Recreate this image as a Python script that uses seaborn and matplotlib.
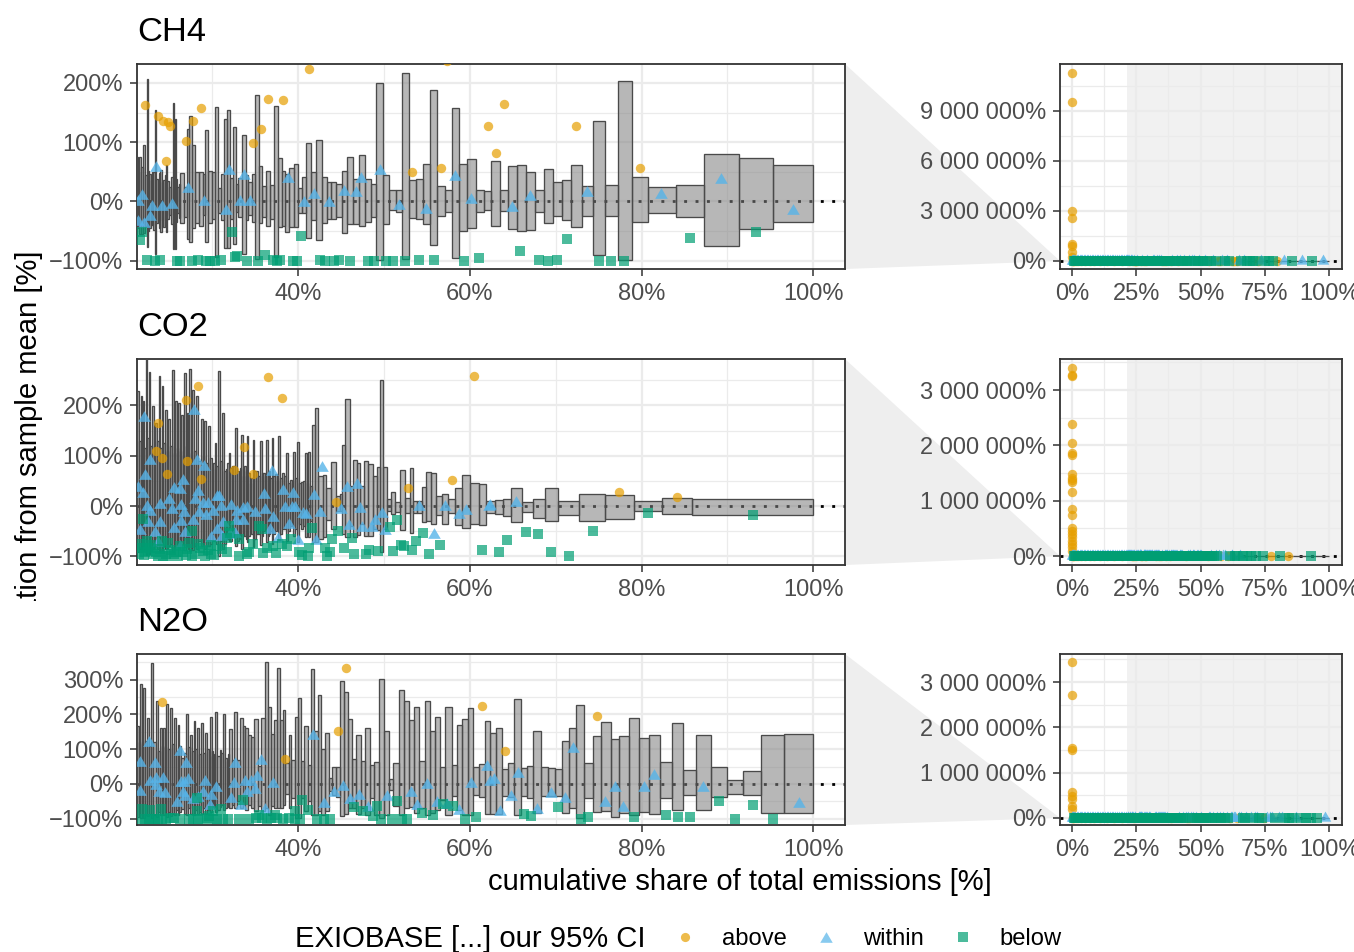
import numpy as np
import pandas as pd
import seaborn as sns
import matplotlib.pyplot as plt
from matplotlib.lines import Line2D
from matplotlib.patches import Polygon
from matplotlib.path import Path
from matplotlib.ticker import MultipleLocator
from matplotlib.transforms import Bbox

# bars run from right to left: edges are the cumulative shares between them
ch4_edges = [100, 95.3, 91.3, 87.3, 84.0, 80.7, 78.9, 77.3, 75.8, 74.35, 73.1, 71.8, 70.7, 69.7, 68.6, 67.55, 66.5, 65.5, 64.4, 63.5, 62.5,
             61.6, 60.67, 59.70, 58.80, 57.91, 57.06, 56.16, 55.35, 54.53, 53.71, 52.94, 52.08, 51.38, 50.64, 49.87, 49.13, 48.47, 47.81, 47.07, 46.41,
             45.75, 45.09, 44.47, 43.89, 43.34, 42.80, 42.14, 41.55, 40.97, 40.51, 40.04, 39.53, 38.99, 38.52, 38.14, 37.63, 37.16, 36.74, 36.27, 35.84,
             35.46, 35.03, 34.60, 34.17, 33.90, 33.47, 33.05, 32.77, 32.39, 32.07, 31.69, 31.38, 30.99, 30.72, 30.37, 29.98, 29.51, 29.12, 28.89, 28.50,
             28.00, 27.65, 27.34, 27.06, 26.75, 26.25, 25.94, 25.66, 25.39, 24.93, 24.62, 24.30, 23.92, 23.68, 23.29, 22.98, 22.67, 22.36, 21.90, 21.51, 21.24]
ch4_hi = [61, 73, 80, 28, 24, 42, 203, 28, 135, 26, 61, 37, 32, 55, 20, 50, 62, 60, 19, 69, 17,
          19, 72, 64, 157, 19, 26, 188, 63, 38, 37, 217, 19, 20, 44, 200, 29, 38, 78, 38, 75,
          52, 30, 33, 33, 42, 103, 49, 99, 42, 23, 64, 56, 47, 51, 74, 161, 28, 51, 26, 60,
          180, 47, 33, 44, 113, 39, 30, 125, 40, 154, 140, 47, 22, 160, 49, 52, 121, 47, 50, 49,
          95, 145, 123, 25, 48, 25, 140, 167, 25, 62, 36, 53, 37, 154, 50, 47, 206, 95, 75, 75]
ch4_lo = [-35, -46, -76, -26, -20, -34, -99, -24, -90, -24, -43, -32, -25, -37, -17, -49, -50, -46, -16, -41, -15,
          -17, -44, -50, -96, -17, -24, -74, -38, -29, -28, -97, -17, -15, -38, -98, -26, -34, -42, -38, -38,
          -54, -26, -29, -29, -37, -65, -31, -62, -19, -19, -43, -43, -51, -42, -43, -93, -29, -42, -26, -36,
          -97, -34, -23, -32, -88, -26, -18, -72, -30, -79, -78, -32, -20, -93, -29, -37, -69, -23, -41, -37,
          -45, -68, -64, -26, -37, -20, -81, -81, -23, -51, -43, -51, -35, -88, -40, -45, -77, -54, -55, -37]
# shorter bars squeezed in next to the last (leftmost) bars, where the curve is densest
ch4_fill_hi = [30, 38, 28, 42, 35, 45, 32, 48, 38, 50, 36, 52, 45, 58, 50]
ch4_fill_lo = [-28, -35, -25, -38, -30, -42, -32, -45, -36, -48, -40, -50, -42, -55, -45]

co2_edges = [100, 85.88, 82.39, 79.12, 75.78, 72.75, 70.27, 68.71, 67.31, 66.03, 64.75, 63.82, 62.89, 61.91,
             61.02, 60.05, 59.12, 58.30, 57.52, 56.82, 56.08, 55.50, 54.88, 54.38, 53.90, 53.44, 52.98, 52.45, 51.85, 51.33, 50.82, 50.36, 49.9, 49.6,
             49.15, 48.7, 48.15, 47.65, 47.25, 46.85, 46.45, 46.0, 45.5, 45.15, 44.85, 44.4, 43.85, 43.3, 42.85, 42.35, 41.95, 41.6,
             41.2, 40.8, 40.35, 39.9, 39.45, 39.05, 38.6, 38.1, 37.7, 37.3, 36.95, 36.6, 36.3, 35.95, 35.55, 35.1, 34.7, 34.35, 34.05, 33.75,
             33.4, 33.1, 32.7, 32.25, 31.9, 31.55, 31.15, 30.65, 30.3, 29.95, 29.55, 29.1, 28.65, 28.15, 27.7, 27.35, 27.05, 26.75, 26.4, 26.05,
             25.7, 25.3, 24.9, 24.5, 24.15, 23.75, 23.35, 23.0, 22.6, 22.25, 21.95, 21.65, 21.24]
co2_hi = [15, 16, 10, 21, 24, 11, 36, 15, 9, 35, 15, 13, 10,
          44, 46, 61, 36, 15, 23, 20, 65, 67, 38, 10, 10, 76, 17, 71, 8, 28, 15, 78, 250,
          78, 59, 83, 89, 40, 86, 92, 40, 212, 121, 24, 20, 88, 35, 61, 59, 195, 160,
          107, 106, 47, 127, 107, 52, 106, 65, 140, 63, 135, 69, 132, 66, 129, 69, 132, 46, 139, 79,
          142, 66, 155, 79, 106, 73, 185, 269, 125, 73, 158, 168, 172, 218, 231, 272, 185, 264, 180, 205,
          208, 271, 172, 191, 239, 259, 165, 198, 267, 300, 208, 218, 228]
co2_lo = [-18, -15, -10, -26, -30, -18, -30, -23, -12, -31, -20, -15, -13,
          -38, -36, -43, -38, -13, -36, -17, -36, -30, -31, -13, -13, -53, -13, -48, -12, -16, -10, -46, -92,
          -48, -45, -60, -60, -35, -58, -62, -40, -62, -55, -10, -10, -45, -28, -62, -66, -72, -72,
          -62, -62, -45, -72, -60, -40, -70, -45, -68, -50, -75, -55, -72, -50, -78, -55, -82, -45, -72, -60,
          -85, -55, -80, -60, -70, -55, -85, -99, -70, -55, -80, -85, -80, -85, -88, -90, -80, -88, -78, -85,
          -85, -92, -80, -85, -90, -92, -80, -85, -95, -97, -90, -92, -92]
co2_fill_hi = [40, 45, 50, 45, 55, 50, 45, 60, 55, 50, 60, 55, 70, 60, 65, 60, 70, 55, 65, 70, 60, 75, 70, 80, 75, 85, 70, 90, 80, 85,
               95, 85, 100, 90, 110, 95, 105, 120, 100, 110, 115, 105, 120, 110, 125, 115, 130, 110, 120, 135, 115, 125, 130]
co2_fill_lo = [-30, -35, -40, -35, -45, -40, -50, -45, -55, -45, -55, -50, -60, -50, -60, -55, -65, -55, -60, -65, -60, -65, -70, -60, -70, -65, -75, -70, -75, -70,
               -75, -80, -75, -70, -80, -75, -85, -80, -75, -85, -80, -85, -75, -85, -80, -90, -85, -80, -90, -85, -85, -90, -85]

n2o_edges = [100, 96.57, 93.96, 91.83, 89.96, 88.1, 86.3, 84.84, 83.5, 82.2, 80.9, 79.7, 78.5, 77.4, 76.4, 75.3, 74.3, 73.3, 72.4, 71.55, 70.7,
             69.9, 69.1, 68.3, 67.4, 66.7, 66.0, 65.2, 64.5, 63.8, 63.1, 62.38, 61.72, 61.06, 60.4, 59.74, 59.15, 58.5, 57.87, 57.17, 56.55,
             55.89, 55.35, 54.76, 54.1, 53.48, 52.9, 52.3, 51.7, 51.1, 50.57, 50.0, 49.48, 48.9, 48.4, 47.85, 47.34, 46.8, 46.3, 45.83, 45.4,
             44.9, 44.43, 44.0, 43.6, 43.15, 42.72, 42.3, 41.87, 41.55, 41.17, 40.7, 40.3, 39.96, 39.6, 39.2, 38.9, 38.5, 38.2, 37.86, 37.55,
             37.16, 36.85, 36.47, 36.1, 35.73, 35.34, 34.87, 34.48, 34.17, 33.86, 33.63, 33.24, 32.85, 32.54,
             32.0, 31.75, 31.3, 30.85, 30.35, 30.1, 29.8, 29.6, 29.15, 28.65, 28.25, 27.85, 27.4, 26.95, 26.4, 25.97, 25.55, 25.1, 24.65, 24.3, 23.95, 23.4, 22.85, 22.35, 21.95, 21.6, 21.24]
n2o_hi = [145, 142, 38, 12, 49, 142, 41, 176, 62, 142, 132, 190, 137, 129, 177, 139, 60, 227, 161, 125,
          44, 46, 49, 152, 53, 46, 244, 59, 44, 160, 147, 181, 58, 49, 219, 186, 169, 54, 221, 48,
          192, 152, 240, 67, 222, 183, 238, 269, 60, 15, 152, 303, 63, 56, 161, 65, 142, 73, 186, 264,
          296, 49, 49, 17, 147, 101, 256, 152, 330, 56, 166, 65, 248, 193, 70, 140, 60, 213, 183, 333,
          184, 144, 221, 352, 190, 53, 186, 136, 142, 161, 166, 190, 70, 208,
          157, 65, 200, 97, 208, 60, 194, 94, 147, 176, 160, 181, 140, 200, 75, 169, 189, 219, 229, 160, 162, 240, 349, 190, 277, 288, 166]
n2o_lo = [-84, -84, -33, -28, -38, -74, -33, -74, -40, -85, -81, -88, -84, -94, -77, -80, -40, -98, -68, -84,
          -34, -34, -34, -84, -40, -34, -90, -36, -34, -86, -86, -86, -38, -33, -90, -88, -74, -34, -88, -45,
          -74, -84, -88, -69, -84, -67, -69, -88, -64, -16, -90, -98, -88, -40, -88, -69, -86, -69, -69, -87,
          -93, -36, -31, -21, -79, -88, -79, -88, -88, -50, -79, -40, -98, -98, -40, -69, -30, -60, -69, -69,
          -69, -64, -88, -69, -79, -64, -79, -69, -60, -74, -60, -69, -50, -69,
          -70, -60, -75, -65, -80, -60, -80, -65, -85, -85, -85, -88, -85, -88, -72, -90, -90, -92, -95, -90, -88, -95, -98, -92, -98, -98, -95]
n2o_fill_hi = [70, 85, 75, 90, 80, 85, 95, 80, 100, 90, 85, 100, 95, 105, 90, 110, 95, 115, 100, 105, 110, 95, 120, 110, 125, 115, 120]
n2o_fill_lo = [-60, -65, -70, -60, -75, -70, -65, -80, -75, -70, -80, -75, -85, -70, -85, -80, -75, -85, -80, -90, -85, -80, -90, -85, -90, -88, -90]

ch4_above_x = [22.2, 23.7, 24.3, 24.8, 25.1, 24.6, 26.95, 27.8, 28.7, 34.8, 35.65, 36.5, 38.3, 41.3, 57.4, 53.3, 56.6, 62.1, 64.0, 63.0, 72.4, 79.8]
ch4_above_y = [162, 145, 136, 134, 128, 68, 102, 135, 157, 98, 123, 173, 171, 223, 237, 50, 57, 127, 164, 81, 127, 56]
ch4_within_x = [21.8, 21.4, 22.05, 22.8, 21.4, 23.0, 24.1, 25.3, 23.45, 27.2, 29.0, 31.6, 31.9, 33.2, 33.7, 34.4, 38.8, 40.7, 41.9, 43.6, 45.4, 46.8, 47.3, 49.5, 51.7, 54.9, 58.3, 60.1, 64.9, 67.0, 73.65, 82.3, 89.3, 97.6]
ch4_within_y = [12, 2, -35, -23, -32, -6, -6, -3, 60, 25, 3, -13, 55, 2, 46, 2, 42, 0, 14, 0, 20, 17, 42, 54, -5, -11, 45, 5, -7, 11, 17, 15, 40, -12]
ch4_below_x = [21.8, 21.6, 22.4, 23.3, 23.9, 25.9, 26.3, 27.6, 28.4, 29.3, 29.75, 30.3, 31.0, 32.3, 32.7, 32.9, 34.1, 35.3, 36.1, 37.05, 37.5, 37.9, 39.4, 39.85, 40.3, 42.5, 43.1, 44.2, 44.8, 46.1, 48.1, 48.8, 50.2, 51.0, 52.5, 54.1, 55.8, 59.3, 61.1, 65.9, 68.05, 69.1, 70.2, 71.3, 75.0, 76.5, 78.0, 85.6, 93.3]
ch4_below_y = [-51, -65, -98, -100, -98, -100, -100, -100, -98, -100, -100, -100, -98, -51, -93, -92, -100, -100, -90, -98, -100, -98, -100, -100, -59, -98, -100, -100, -98, -100, -100, -100, -100, -100, -100, -98, -98, -100, -96, -84, -98, -100, -98, -64, -100, -100, -100, -62, -52]

co2_above_x = [23.7, 23.4, 24.2, 24.7, 26.9, 28.4, 27.1, 28.7, 33.7, 32.5, 34.7, 36.5, 38.1, 44.4, 52.8, 57.9, 60.5, 77.4, 84.1]
co2_above_y = [165, 110, 96, 64, 211, 238, 89, 53, 117, 71, 63, 257, 214, 9, 36, 51, 258, 28, 18]
co2_within_x = [22.05, 27.9, 22.8, 22.2, 21.4, 21.9, 28.2, 29.05, 25.5, 26.25, 26.6, 28.4, 28.0, 25.0, 22.4, 23.9, 26.4, 25.3, 22.75, 26.7, 28.9, 29.55, 30.5, 30.8, 31.0, 32.2, 30.1, 29.3, 28.5, 22.55, 23.9, 25.55, 27.8, 26.4, 23.3, 21.6, 26.8, 23.7, 26.3, 29.9, 30.5, 31.2, 32.8, 33.55, 32.9, 33.6, 34.0, 35.0, 36.1, 36.0, 37.0, 38.3, 37.1, 38.5, 39.45, 39.3, 39.65, 40.6, 40.9, 38.9, 36.7, 37.7, 39.95, 42.1, 41.8, 42.8, 42.5, 45.0, 47.2, 45.7, 46.9, 45.9, 47.5, 49.0, 48.6, 49.8, 50.1, 54.1, 55.8, 57.1, 58.7, 59.6, 62.2, 32.05, 31.1, 32.65, 62.4, 65.4]
co2_within_y = [178, 193, 94, 63, 40, 28, 94, 81, 38, 36, 53, 32, 17, 17, 3, 7, 5, -3, -8, -10, 8, 9, 21, 21, 3, 5, -7, -15, -9, -30, -30, -41, -25, -28, -50, -46, -50, -69, -78, -59, -43, -30, -26, -26, -7, -1, 0, -10, -3, 25, 71, 33, -20, 1, 28, 1, 1, -12, -13, -33, -44, -61, -66, -66, 24, 79, -9, -3, -2, 40, 46, -36, -40, -26, -40, -11, -46, 2, -53, 2, -13, -5, 3, -53, -58, -51, 4, 10]
co2_below_x = [21.95, 22.35, 21.8, 22.2, 22.75, 23.15, 23.7, 24.3, 24.9, 24.9, 25.5, 26.05, 26.65, 27.35, 27.6, 27.6, 28.6, 29.15, 29.9, 29.9, 30.5, 31.1, 31.7, 31.9, 32.05, 31.7, 33.15, 33.15, 34.1, 34.3, 34.8, 35.4, 35.75, 35.9, 36.4, 37.1, 37.4, 38.1, 38.7, 39.15, 40.15, 40.4, 41.1, 41.3, 41.6, 43.15, 43.35, 43.7, 43.9, 44.7, 45.3, 46.25, 46.55, 47.9, 48.3, 49.35, 50.65, 51.0, 51.5, 51.95, 52.3, 53.25, 53.7, 54.6, 55.2, 56.5, 61.4, 63.35, 64.3, 66.6, 68.0, 69.5, 71.5, 74.3, 80.7, 93.0,
               21.5, 21.7, 22.0, 22.5, 22.9, 23.4, 23.9, 24.1, 24.6, 25.2, 25.8, 26.3, 26.9, 27.1, 28.0, 28.3, 28.9, 29.5, 30.2]
co2_below_y = [-26, -69, -83, -92, -83, -96, -99, -99, -73, -99, -96, -99, -92, -73, -99, -50, -84, -99, -78, -96, -79, -86, -92, -40, -53, -63, -99, -66, -96, -92, -76, -40, -46, -94, -83, -79, -94, -76, -79, -66, -92, -98, -99, -83, -43, -83, -99, -92, -66, -50, -83, -63, -96, -96, -87, -89, -42, -90, -28, -78, -79, -88, -70, -54, -96, -78, -88, -91, -67, -51, -55, -91, -99, -50, -14, -18,
               -95, -75, -97, -90, -78, -92, -85, -70, -95, -88, -92, -80, -97, -86, -95, -75, -90, -88, -97]

n2o_above_x = [24.2, 38.5, 44.7, 45.6, 61.4, 64.1, 74.8]
n2o_above_y = [236, 73, 153, 333, 225, 96, 197]
n2o_within_x = [21.6, 22.6, 23.3, 21.6, 22.7, 23.45, 24.3, 23.5, 23.85, 24.5, 26.2, 25.9, 26.4, 26.7, 27.2, 27.0, 26.6, 26.8, 27.8, 28.4, 28.9, 29.2, 29.9, 30.4, 29.75, 32.2, 32.7, 32.5, 33.8, 34.5, 35.2, 35.7, 35.0, 34.1, 33.4, 36.2, 37.05, 41.75, 43.0, 44.2, 45.2, 46.1, 47.1, 48.1, 50.3, 53.2, 53.8, 55.0, 56.2, 57.4, 58.8, 60.1, 62.0, 62.4, 62.8, 65.6, 64.8, 63.5, 67.8, 69.45, 71.1, 72.0, 75.8, 76.9, 77.9, 80.3, 81.5, 87.2, 98.3]
n2o_within_y = [67, 125, 63, -16, 12, 19, 20, 0, -21, -23, 99, -48, 10, 8, 17, 63, -21, -31, -40, -34, -21, 12, -29, -5, -58, -36, 62, 6, 12, 12, 25, 73, -12, -21, -58, -69, 6, 145, -53, -19, -2, -40, -29, -62, -31, -19, -58, 2, -50, -55, -71, 5, 56, 12, 17, 35, -31, -74, -69, -23, -37, 105, -50, -7, -62, -6, 28, -5, -52]
n2o_below_x = [21.8, 22.2, 22.6, 23.0, 23.3, 23.7, 24.1, 24.6, 25.1, 25.5, 26.2, 27.3, 27.8, 28.4, 28.9, 29.4, 30.1, 30.6, 31.3, 31.8, 33.1, 34.3, 35.1, 35.8, 36.4, 36.9, 37.5, 38.2, 38.9, 39.7, 40.2, 42.2, 43.0, 43.7,
               21.8, 22.8, 24.0, 28.2, 30.1, 31.0, 28.2, 33.6, 29.6, 35.4, 37.3, 39.7, 41.2, 40.5, 46.5, 47.6, 48.7, 49.2, 49.7, 50.9, 51.5, 52.1, 52.7, 54.4, 55.7, 56.9, 58.0, 59.4, 60.7,
               66.3, 67.1, 70.3, 72.9, 73.8, 79.1, 82.8, 84.2, 85.6, 89.0, 90.9, 93.0, 95.3]
n2o_below_y = [-100, -100, -100, -100, -100, -100, -100, -100, -98, -98, -100, -100, -100, -100, -100, -98, -100, -100, -100, -100, -100, -100, -98, -97, -100, -98, -98, -100, -98, -100, -100, -100, -100, -100,
               -71, -74, -71, -77, -77, -71, -40, -45, -91, -89, -89, -77, -74, -45, -67, -79, -91, -62, -100, -100, -48, -100, -100, -83, -89, -58, -62, -100, -94,
               -86, -91, -67, -100, -96, -94, -88, -94, -96, -49, -100, -60, -100]

# extreme outliers sit right at the start of the curve, only the zoomed out panels show them
ch4_far_x = [0.1, 0.1, 0.1, 0.1, 0.1, 0.1, 0.1, 0.1]
ch4_far_y = [11280000, 9540000, 2980000, 2600000, 1040000, 880000, 540000, 240000]
co2_far_x = [0.1, 0.1, 0.1, 0.1, 0.1, 0.1, 0.1, 0.1, 0.1, 0.1, 0.1, 0.1, 0.1, 0.1, 0.1, 0.1, 0.1, 0.1, 0.1, 0.1, 0.1, 0.1]
co2_far_y = [3400000, 3280000, 3250000, 2390000, 2050000, 1870000, 1820000, 1480000, 1410000, 1370000, 1340000, 1150000, 860000, 750000, 510000, 460000, 400000, 340000, 280000, 220000, 160000, 100000]
n2o_far_x = [0.1, 0.1, 0.1, 0.1, 0.1, 0.1, 0.1, 0.1, 0.1]
n2o_far_y = [3450000, 2720000, 1540000, 1490000, 570000, 490000, 420000, 270000, 200000]

# points below the cut of the left panels
low_above_x = [0.2, 0.5, 0.9, 1.4, 2.2, 3.5, 5.1, 6.8, 8.7, 11.0, 13.6, 16.2, 19.3]
low_above_y = [60, 120, 90, 150, 70, 110, 80, 130, 60, 90, 140, 70, 100]
low_within_x = [0.0, 0.2, 0.5, 0.9, 1.3, 1.8, 2.3, 2.9, 3.4, 4.0, 4.6, 5.2, 5.8, 6.3, 7.0, 7.6, 8.2, 8.9, 9.5, 10.2, 10.8, 11.5, 12.1, 12.8, 13.5, 14.1, 14.8, 15.5, 16.1, 16.8, 17.5, 18.2, 18.9, 19.6, 20.3, 21.0]
low_within_y = [20, -40, 10, 50, -20, 30, 0, -30, 40, 10, -10, 20, 60, -40, 0, 30, -20, 10, 50, -30, 20, 0, 40, -10, 30, -20, 10, 50, 0, -30, 20, 40, -10, 30, 0, 10]
low_below_x = [0.6, 1.1, 1.7, 2.2, 2.8, 3.3, 3.9, 4.5, 5.0, 5.6, 6.2, 6.8, 7.3, 7.9, 8.5, 9.1, 9.6, 10.2, 10.8, 11.4, 11.9, 12.5, 13.1, 13.7, 14.2, 14.8, 15.4, 16.0, 16.5, 17.1, 17.7, 18.3, 18.8, 19.4, 20.0, 20.6, 21.1]
low_below_y = [-96, -98, -95, -99, -97, -92, -98, -94, -99, -96, -98, -93, -97, -99, -95, -98, -92, -96, -99, -94, -97, -98, -95, -99, -93, -96, -98, -94, -97, -99, -95, -92, -98, -96, -99, -94, -97]

gases = ["CH4", "CO2", "N2O"]
main_ticks = [[-100, 0, 100, 200], [-100, 0, 100, 200], [-100, 0, 100, 200, 300]]
main_ylim = [(-114, 232), (-117, 292), (-118, 374)]
far_ticks = [[0, 3000000, 6000000, 9000000], [0, 1000000, 2000000, 3000000], [0, 1000000, 2000000, 3000000]]
far_minor = [1500000, 500000, 500000]
far_ylim = [(-480000, 11800000), (-160000, 3560000), (-155000, 3620000)]
# panel frames in pixels: top, bottom
frames = [(64, 269), (359, 565), (654, 825)]

edges_all = [ch4_edges, co2_edges, n2o_edges]
hi_all = [ch4_hi, co2_hi, n2o_hi]
lo_all = [ch4_lo, co2_lo, n2o_lo]
fill_all = [(ch4_fill_hi, ch4_fill_lo), (co2_fill_hi, co2_fill_lo), (n2o_fill_hi, n2o_fill_lo)]
above_all = [(ch4_above_x, ch4_above_y), (co2_above_x, co2_above_y), (n2o_above_x, n2o_above_y)]
within_all = [(ch4_within_x, ch4_within_y), (co2_within_x, co2_within_y), (n2o_within_x, n2o_within_y)]
below_all = [(ch4_below_x, ch4_below_y), (co2_below_x, co2_below_y), (n2o_below_x, n2o_below_y)]
far_all = [(ch4_far_x, ch4_far_y), (co2_far_x, co2_far_y), (n2o_far_x, n2o_far_y)]

ORANGE, BLUE, GREEN = "#E69F00", "#56B4E9", "#009E73"
W, H = 1354, 952

# triangles: ggplot centres them on the centroid, so the zoomed out panels sit a bit higher
TRI_MAIN = Path([(-1, -0.85), (1, -0.85), (0, 0.85), (-1, -0.85)], closed=True)
TRI_FAR = Path([(-1, -0.55), (1, -0.55), (0, 1.2), (-1, -0.55)], closed=True)

sns.set_theme(style="whitegrid")
plt.rcParams["font.family"] = ["Liberation Sans", "DejaVu Sans"]
plt.rcParams["axes.unicode_minus"] = True


def pct(v):
    return f"{v:,}%".replace(",", " ").replace("-", "\u2212")


def make_axes(fig, left, right, top, bottom):
    return fig.add_axes([left / W, 1 - bottom / H, (right - left) / W, (bottom - top) / H])


def style_axes(ax):
    ax.set_axisbelow(True)
    ax.set_facecolor("white")
    ax.grid(which="major", color="#ebebeb", lw=1.6)
    ax.grid(which="minor", color="#ebebeb", lw=0.9)
    ax.tick_params(which="major", length=5, width=1.1, color="#333333", labelcolor="#4d4d4d",
                   labelsize=17, left=True, bottom=True)
    ax.tick_params(axis="x", which="major", pad=5)
    ax.tick_params(axis="y", which="major", pad=5)
    ax.tick_params(which="minor", length=0)
    for s in ax.spines.values():
        s.set_color("#333333")
        s.set_linewidth(1.3)
        s.set_visible(True)
    ax.set_xlabel("")
    ax.set_ylabel("")


def draw_points(ax, above, within, below, tri, tri_size):
    n = min(len(above[0]), len(above[1]))
    sns.scatterplot(x=above[0][:n], y=above[1][:n], color=ORANGE, marker="o", s=46, alpha=0.7,
                    linewidth=0, ax=ax, legend=False, zorder=4)
    n = min(len(within[0]), len(within[1]))
    sns.scatterplot(x=within[0][:n], y=within[1][:n], color=BLUE, marker=tri, s=tri_size, alpha=0.8,
                    linewidth=0, ax=ax, legend=False, zorder=5)
    n = min(len(below[0]), len(below[1]))
    sns.scatterplot(x=below[0][:n], y=below[1][:n], color=GREEN, marker="s", s=46, alpha=0.7,
                    linewidth=0, ax=ax, legend=False, zorder=6)


def draw_bars(ax, edges, hi, lo, fill):
    e = np.array(edges)
    n = min(len(e) - 1, len(hi), len(lo))
    df = pd.DataFrame({"left": e[1:n + 1], "width": e[:n] - e[1:n + 1], "lo": lo[:n], "hi": hi[:n]})
    # the last bars share their slot with a shorter neighbour
    k = min(len(fill[0]), len(fill[1]))
    dense = df.iloc[-k:]
    extra = pd.DataFrame({"left": dense["left"].values + dense["width"].values / 2,
                          "width": dense["width"].values / 2, "lo": fill[1][:k], "hi": fill[0][:k]})
    df.loc[df.index[-k:], "width"] = dense["width"].values / 2
    df = pd.concat([df, extra])
    ax.bar(df["left"], df["hi"] - df["lo"], width=df["width"], bottom=df["lo"], align="edge",
           color=(0.5, 0.5, 0.5, 0.56), edgecolor="#4a4a4a", linewidth=0.95, zorder=3)


fig = plt.figure(figsize=(W / 100, H / 100), dpi=100, facecolor="white")

for i, gas in enumerate(gases):
    top, bottom = frames[i]
    ax = make_axes(fig, 137, 845, top, bottom)
    axr = make_axes(fig, 1060, 1342, top, bottom)

    # left panel
    ax.axhline(0, color="black", lw=2, ls=(0, (1.05, 3.05)), zorder=2)
    draw_bars(ax, edges_all[i], hi_all[i], lo_all[i], fill_all[i])
    draw_points(ax, above_all[i], within_all[i], below_all[i], TRI_MAIN, 82)
    ax.set_xlim(21.24, 103.7)
    ax.set_ylim(*main_ylim[i])
    ax.set_xticks([40, 60, 80, 100])
    ax.set_xticklabels(["40%", "60%", "80%", "100%"])
    ax.set_yticks(main_ticks[i])
    ax.set_yticklabels([pct(v) for v in main_ticks[i]])
    ax.xaxis.set_minor_locator(MultipleLocator(10))
    ax.yaxis.set_minor_locator(MultipleLocator(50))
    style_axes(ax)
    ax.set_title(gas, loc="left", fontsize=24.8, color="black", pad=16.8)

    # right panel shows everything, same points plus the far outliers
    axr.axvspan(21.24, 105, color="#f1f1f1", lw=0, zorder=0.2)
    axr.axhline(0, color="black", lw=2, ls=(0, (1.05, 3.05)), zorder=2)
    draw_bars(axr, edges_all[i], hi_all[i], lo_all[i], fill_all[i])
    draw_points(axr,
                (low_above_x + above_all[i][0] + far_all[i][0], low_above_y + above_all[i][1] + far_all[i][1]),
                (low_within_x + within_all[i][0], low_within_y + within_all[i][1]),
                (low_below_x + below_all[i][0], low_below_y + below_all[i][1]), TRI_FAR, 100)
    axr.set_xlim(-4.7, 105)
    axr.set_ylim(*far_ylim[i])
    axr.set_xticks([0, 25, 50, 75, 100])
    axr.set_xticklabels(["0%", "25%", "50%", "75%", "100%"])
    axr.set_yticks(far_ticks[i])
    axr.set_yticklabels([pct(v) for v in far_ticks[i]])
    axr.xaxis.set_minor_locator(MultipleLocator(12.5))
    axr.yaxis.set_minor_locator(MultipleLocator(far_minor[i]))
    style_axes(axr)

    # grey wedge from the left panel to the zero line of the right one
    inv = fig.transFigure.inverted()
    p1 = inv.transform(ax.transAxes.transform((1, 1)))
    p2 = inv.transform(ax.transAxes.transform((1, 0)))
    p3 = inv.transform(axr.transData.transform((axr.get_xlim()[0], 0)))
    fig.add_artist(Polygon([p1, p3, p2], closed=True, transform=fig.transFigure, fc="#eeeeee", ec="none", zorder=-1))

fig.text(739.5 / W, 1 - 882 / H, "cumulative share of total emissions [%]", ha="center", va="center",
         fontsize=21, color="black")

# the long y title is cut off by the panel row below it
ylab = fig.text(29 / W, 1 - 250 / H, "deviation from sample mean [%]", rotation=90, ha="center", va="top",
                fontsize=21.1, color="black", clip_on=True)
ylab.set_clip_box(Bbox([[0, H - 600.5], [137, H]]))

fig.text(295 / W, 1 - 939 / H, "EXIOBASE [...] our 95% CI", ha="left", va="center", fontsize=21.1, color="black")
handles = [
    Line2D([], [], ls="", marker="o", ms=6.6, mew=0, color=ORANGE, alpha=0.7),
    Line2D([], [], ls="", marker=TRI_MAIN, ms=9, mew=0, color=BLUE, alpha=0.7),
    Line2D([], [], ls="", marker="s", ms=6.6, mew=0, color=GREEN, alpha=0.7),
]
fig.legend(handles, ["above", "within", "below"], ncol=3, loc="center left",
           bbox_to_anchor=(673 / W, 1 - 939 / H), frameon=False, fontsize=17.1, handlelength=1,
           handletextpad=1.06, columnspacing=1.15, borderpad=0, borderaxespad=0, labelcolor="black")

fig.savefig("out.png", dpi=100)
